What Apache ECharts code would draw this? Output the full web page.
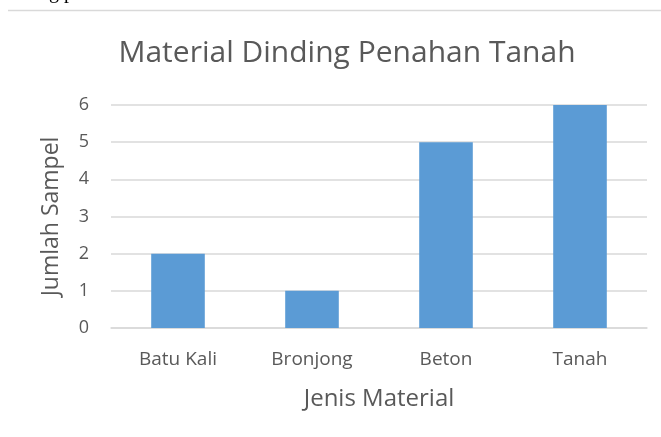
<!DOCTYPE html>
<html>
<head>
<meta charset="utf-8">
<script src="https://cdn.jsdelivr.net/npm/echarts@6/dist/echarts.min.js"></script>
<style>
    html, body { margin: 0; padding: 0; background: #fff; }
    #chart { width: 661px; height: 437px; }
</style>
</head>
<body>
<div id="chart"></div>
<script>
var categories = ['Batu Kali', 'Bronjong', 'Beton', 'Tanah'];
var jumlahSampel = [2, 1, 5, 6];
var yTicks = [0, 1, 2, 3, 4, 5, 6];

var myChart = echarts.init(document.getElementById('chart'));
var font = '"Open Sans", "Noto Sans", sans-serif';

myChart.setOption({
    animation: false,
    textStyle: { fontFamily: font },
    title: {
        text: 'Material Dinding Penahan Tanah',
        left: 342,
        textAlign: 'center',
        top: 33,
        textStyle: { fontSize: 30, fontWeight: 'normal', color: '#595959', fontFamily: font }
    },
    graphic: [
        {
            // teks dokumen yang terpotong di bagian atas
            type: 'text',
            left: -2,
            top: -17,
            style: { text: 'dinding penahan tanah', font: '20px "Liberation Serif", serif', fill: '#000' }
        },
        {
            type: 'line',
            shape: { x1: 8, y1: 10.5, x2: 661, y2: 10.5 },
            style: { stroke: '#d9d9d9', lineWidth: 1.5 }
        }
    ],
    grid: { left: 111, right: 14, top: 105, bottom: 109, containLabel: false },
    xAxis: {
        type: 'category',
        data: categories,
        name: 'Jenis Material',
        nameLocation: 'middle',
        nameGap: 59,
        nameTextStyle: { fontSize: 24, color: '#595959' },
        axisLine: { lineStyle: { color: '#d9d9d9', width: 1.5 } },
        axisTick: { show: false },
        axisLabel: { fontSize: 19, color: '#595959', margin: 22 }
    },
    yAxis: {
        type: 'value',
        min: yTicks[0],
        max: yTicks[yTicks.length - 1],
        interval: 1,
        name: 'Jumlah Sampel',
        nameLocation: 'middle',
        nameGap: 48,
        nameTextStyle: { fontSize: 23, color: '#595959' },
        axisLine: { show: false },
        axisTick: { show: false },
        axisLabel: { fontSize: 18, color: '#595959', margin: 22 },
        splitLine: { lineStyle: { color: '#d9d9d9', width: 1.5 } }
    },
    series: [{
        type: 'bar',
        data: jumlahSampel,
        barWidth: '40%',
        itemStyle: { color: '#5b9bd5' }
    }]
});
</script>
</body>
</html>
